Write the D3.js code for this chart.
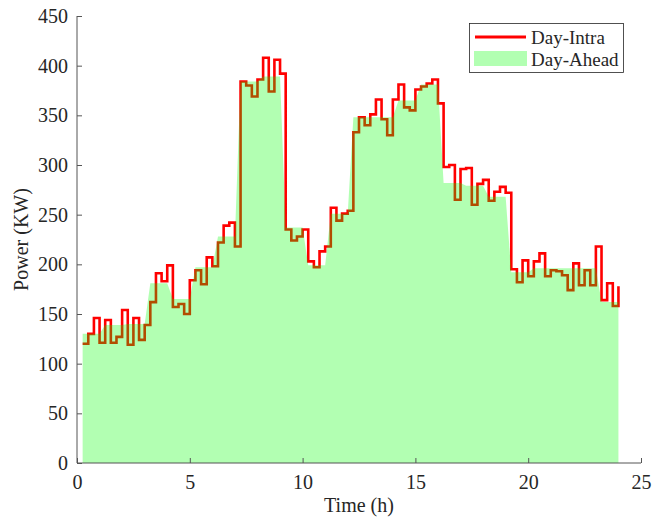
<!DOCTYPE html>
<html>
<head>
<meta charset="utf-8">
<script src="https://cdn.jsdelivr.net/npm/d3@7"></script>
<style>
  html, body { margin: 0; padding: 0; background: #fff; }
  svg { display: block; }
  text { font-family: "Liberation Serif", "Times New Roman", serif; fill: #262626; }
</style>
</head>
<body>
<svg id="chart" width="652" height="520"></svg>
<script>
// ── Data ──
// Day-Intra: 15-minute values, first at t = 0.25 h, last at t = 24 h (stairs)
const dayIntra = [
  120, 130, 146, 121, 144, 121, 127, 154, 119, 146, 124, 139,
  162, 191, 183, 199, 157, 160, 150, 184, 194, 180, 207, 198,
  222, 239, 242, 218, 384, 380, 369, 386, 408, 374, 406, 392,
  235, 224, 228, 235, 203, 197, 213, 218, 257, 244, 251, 254,
  333, 348, 340, 351, 366, 346, 330, 366, 381, 358, 355, 376,
  379, 382, 386, 362, 298, 300, 265, 296, 297, 260, 281, 285,
  264, 273, 278, 272, 195, 182, 204, 188, 203, 211, 188, 194,
  193, 189, 174, 201, 179, 194, 179, 218, 164, 181, 158, 178
];
// Day-Ahead: hourly values (hour 1 .. hour 24), held over each hour's four quarters
const dayAhead = [
  130, 139, 140, 181, 165, 197, 228, 384, 389, 237, 199, 251,
  348, 348, 365, 381, 282, 279, 268, 192, 196, 196, 196, 162
];
const xTicks = [0, 5, 10, 15, 20, 25];
const yTicks = [0, 50, 100, 150, 200, 250, 300, 350, 400, 450];

// ── Layout ──
const svg = d3.select('#chart');
const x = d3.scaleLinear().domain([0, 25]).range([77, 641]);
const y = d3.scaleLinear().domain([0, 450]).range([463, 16]);

// quarter-hour points for the intra-day stairs
const intraPts = dayIntra.map((v, i) => [(i + 1) * 0.25, v]);
// each hour spans h-0.75 .. h, linear ramp to the next hour (like MATLAB area)
const aheadPts = [];
dayAhead.forEach((v, i) => {
  const h = i + 1;
  aheadPts.push([h - 0.75, v]);
  aheadPts.push([h, v]);
});

// Day-Intra red stairs (drawn first so the translucent green sits on top)
svg.append('path')
  .datum(intraPts)
  .attr('fill', 'none')
  .attr('stroke', '#ff0000')
  .attr('stroke-width', 2.6)
  .attr('stroke-linejoin', 'miter')
  .attr('d', d3.line().x(d => x(d[0])).y(d => y(d[1])).curve(d3.curveStepAfter));

// Day-Ahead green area, alpha 0.3
svg.append('path')
  .datum(aheadPts)
  .attr('fill', '#00ff00')
  .attr('fill-opacity', 0.3)
  .attr('stroke', 'none')
  .attr('d', d3.area().x(d => x(d[0])).y0(y(0)).y1(d => y(d[1])));

// ── Axes ──
const axisColor = '#555';
const gx = svg.append('g').attr('transform', `translate(0,${y(0)})`)
  .call(d3.axisBottom(x).tickValues(xTicks).tickSize(-5).tickPadding(12).tickFormat(d3.format('d')));
const gy = svg.append('g').attr('transform', `translate(${x(0)},0)`)
  .call(d3.axisLeft(y).tickValues(yTicks).tickSize(-5).tickPadding(9).tickFormat(d3.format('d')));
[gx, gy].forEach(g => {
  g.select('.domain').attr('stroke', axisColor).attr('stroke-width', 1);
  g.selectAll('.tick line').attr('stroke', axisColor).attr('stroke-width', 1);
  g.selectAll('.tick text').style('font-size', '20px').attr('fill', '#262626');
});
// outer tick stubs off the domain path
gx.select('.domain').attr('d', `M${x(0)},0H${x(25)}`);
gy.select('.domain').attr('d', `M0,${y(450)}V${y(0)}`);

// axis titles
svg.append('text')
  .attr('x', x(12.5)).attr('y', 512)
  .attr('text-anchor', 'middle').style('font-size', '20px')
  .text('Time (h)');
svg.append('text')
  .attr('transform', `translate(28,${(y(0) + y(450)) / 2}) rotate(-90)`)
  .attr('text-anchor', 'middle').style('font-size', '20px')
  .text('Power (KW)');

// ── Legend ──
const lg = svg.append('g');
lg.append('rect')
  .attr('x', 469.5).attr('y', 23.5).attr('width', 154).attr('height', 49)
  .attr('fill', '#fff').attr('stroke', '#262626').attr('stroke-width', 0.8);
lg.append('line')
  .attr('x1', 475).attr('x2', 526).attr('y1', 37).attr('y2', 37)
  .attr('stroke', '#ff0000').attr('stroke-width', 3);
lg.append('rect')
  .attr('x', 474).attr('y', 51).attr('width', 53).attr('height', 15)
  .attr('fill', '#00ff00').attr('fill-opacity', 0.3);
lg.append('text').attr('x', 531).attr('y', 44).style('font-size', '19px').text('Day-Intra');
lg.append('text').attr('x', 531).attr('y', 66).style('font-size', '19px').text('Day-Ahead');
</script>
</body>
</html>
